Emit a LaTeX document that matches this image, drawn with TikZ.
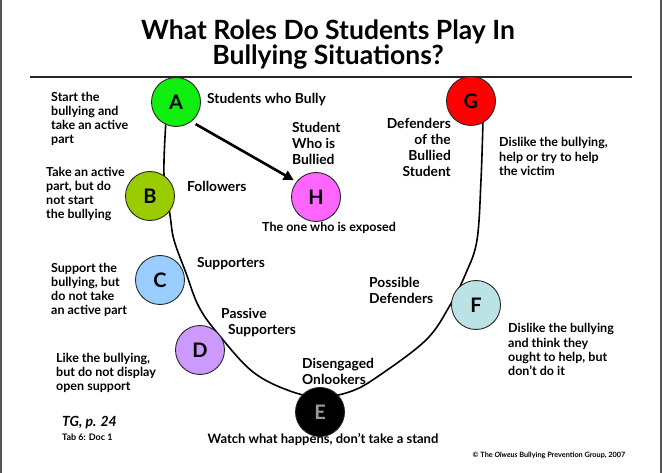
\documentclass[tikz,border=0pt]{standalone}
\usepackage{fontspec}
\setmainfont{Lato}
\usetikzlibrary{arrows.meta}
\definecolor{cA}{HTML}{10EE10}
\definecolor{cB}{HTML}{99CC00}
\definecolor{cC}{HTML}{99CCFF}
\definecolor{cD}{HTML}{CC99FF}
\definecolor{cE}{HTML}{000000}
\definecolor{cF}{HTML}{BBE2E4}
\definecolor{cG}{HTML}{FF0000}
\definecolor{cH}{HTML}{FF66FF}
\definecolor{frame}{HTML}{555555}
\tikzset{
  circ/.style={circle, draw=black!85, line width=0.9pt, minimum size=49pt, inner sep=0pt,
    font=\bfseries\fontsize{20}{20}\selectfont},
  desc/.style={align=left, inner sep=0pt, anchor=base west,
    font=\bfseries\fontsize{12.5}{14.3}\selectfont},
  lab/.style={align=left, inner sep=0pt, anchor=base west,
    font=\bfseries\fontsize{13.8}{16}\selectfont},
  bigarrow/.style={line width=2.6pt, -{Triangle[length=10pt,width=10pt]}},
  ucurve/.style={line width=1.6pt},
}
\begin{document}
\begin{tikzpicture}[x=1pt,y=-1pt]
\useasboundingbox (0,0) rectangle (662,473);
% frame
\draw[frame, line width=1.5pt] (1,0) -- (1,473);
\draw[frame, line width=1.5pt] (661,0) -- (661,473);
% title (base anchor = baseline of last line)
\node[align=center, inner sep=0pt, anchor=base, font=\bfseries\fontsize{26.5}{25}\selectfont]
  (title) at (328,65) {What Roles Do Students Play In\\Bullying Situations?};
\draw[line width=1.1pt, black!85] (30,77) -- (632,77);
% U curve
\draw[ucurve] plot[smooth, tension=0.6] coordinates {
  (166,120) (164,175) (170,215) (174,240) (186,273) (199,307) (219,335) (253,372)
  (290,391) (321,397) (352,391) (380,375) (426,340) (449,307) (466,273) (477,240)
  (481,180) (483,120)};
% circles
\node[circ, fill=cA] (A) at (176,102) {A};
\node[circ, fill=cG] (G) at (471,101) {G};
\node[circ, fill=cB] (B) at (150,196) {B};
\node[circ, fill=cH] (H) at (316,197) {H};
\node[circ, fill=cC] (C) at (160,280) {C};
\node[circ, fill=cD] (D) at (200,350) {D};
\node[circ, fill=cE, text=black!40] (E) at (320,412) {E};
\node[circ, fill=cF] (F) at (476,305) {F};
% arrow
\draw[bigarrow, shorten <=5pt, shorten >=3pt] (A.-52) -- (H.142);
% labels (anchor at baseline of last line)
\node[lab] (lA) at (207,103.5) {Students who Bully};
\node[lab] (lH) at (292,164.5) {Student\\Who is\\Bullied};
\node[lab, align=right, anchor=base east] (lG) at (451,176.5) {Defenders\\of the\\Bullied\\Student};
\node[lab] (lB) at (187,191.5) {Followers};
\node[lab] (lC) at (197,267.5) {Supporters};
\node[lab] (lF) at (369,303.5) {Possible\\Defenders};
\node[lab] (lD) at (221,334.5) {Passive\\\hspace*{7pt}Supporters};
\node[lab] (lE) at (302,384.5) {Disengaged\\Onlookers};
% descriptions
\node[desc] (dA) at (51,144) {Start the\\bullying and\\take an active\\part};
\node[desc] (dB) at (46,219) {Take an active\\part, but do\\not start\\the bullying};
\node[desc] (dC) at (51,315) {Support the\\bullying, but\\do not take\\an active part};
\node[desc] (dD) at (56,390.6) {Like the bullying,\\but do not display\\open support};
\node[desc] (dG) at (499,175.6) {Dislike the bullying,\\help or try to help\\the victim};
\node[desc] (dF) at (508,375.9) {Dislike the bullying\\and think they\\ought to help, but\\don't do it};
\node[desc, anchor=base, font=\bfseries\fontsize{12.5}{14}\selectfont] (dH) at (329,232) {The one who is exposed};
\node[desc, anchor=base, font=\bfseries\fontsize{13}{14}\selectfont] (dE) at (323,443) {Watch what happens, don't take a stand};
% footer
\node[inner sep=0pt, anchor=base west, font=\bfseries\itshape\fontsize{14}{14}\selectfont] (tg) at (62,426) {TG, p. 24};
\node[inner sep=0pt, anchor=base west, font=\bfseries\fontsize{9}{9}\selectfont] (tab) at (62,440) {Tab 6: Doc 1};
\node[inner sep=0pt, anchor=base, font=\bfseries\fontsize{7.3}{8}\selectfont] (copy) at (549,457) {© The \textit{Olweus} Bullying Prevention Group, 2007};
\end{tikzpicture}
\end{document}
